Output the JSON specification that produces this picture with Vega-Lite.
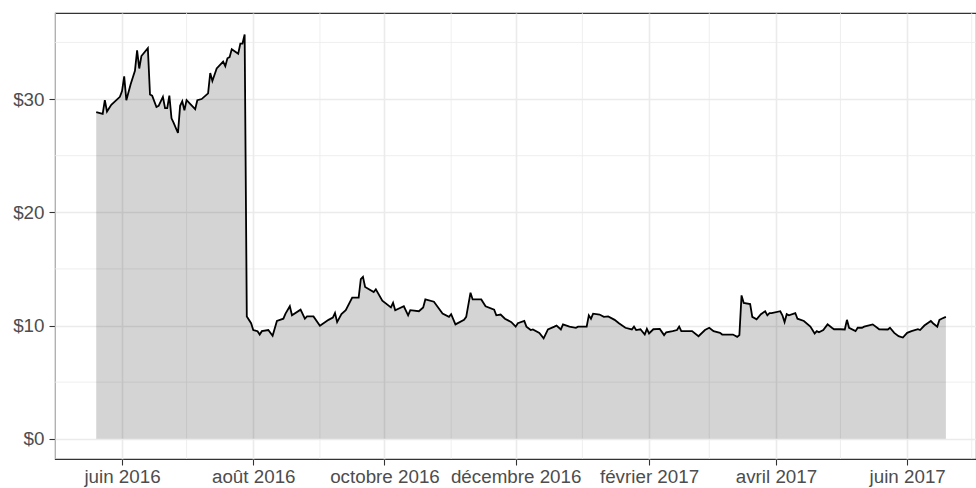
{
  "$schema": "https://vega.github.io/schema/vega-lite/v6.json",
  "width": 921,
  "height": 446,
  "autosize": {"type": "none"},
  "padding": {"left": 55, "top": 13, "right": 0, "bottom": 29},
  "background": "white",
  "config": {
    "view": {"stroke": "#333333", "strokeWidth": 1.1},
    "axis": {
      "labelFont": "Liberation Sans",
      "labelFontSize": 18.8,
      "labelColor": "#4D4D4D",
      "tickColor": "#333333",
      "tickWidth": 1.1,
      "tickSize": 6,
      "domain": false,
      "grid": true,
      "gridColor": "#EBEBEB",
      "gridWidth": 1.6,
      "title": null,
      "labelOverlap": false,
      "labelFlush": false,
      "labelBound": false
    }
  },
  "datasets": {
    "xminor": [
      {"d": "2016-05-01"}, {"d": "2016-07-01"}, {"d": "2016-09-01"}, {"d": "2016-11-01"},
      {"d": "2017-01-01"}, {"d": "2017-03-01"}, {"d": "2017-05-01"}, {"d": "2017-07-01"}
    ],
    "yminor": [{"p": 5}, {"p": 15}, {"p": 25}, {"p": 35}],
    "prices": [
      {"d": "2016-05-20", "p": 28.85}, {"d": "2016-05-23", "p": 28.7}, {"d": "2016-05-24", "p": 29.9},
      {"d": "2016-05-25", "p": 28.9}, {"d": "2016-05-27", "p": 29.5}, {"d": "2016-05-31", "p": 30.2},
      {"d": "2016-06-01", "p": 30.7}, {"d": "2016-06-02", "p": 32.0}, {"d": "2016-06-03", "p": 29.9},
      {"d": "2016-06-05", "p": 31.3}, {"d": "2016-06-07", "p": 32.5}, {"d": "2016-06-08", "p": 34.3},
      {"d": "2016-06-09", "p": 32.7}, {"d": "2016-06-10", "p": 33.8}, {"d": "2016-06-13", "p": 34.5},
      {"d": "2016-06-14", "p": 30.4}, {"d": "2016-06-15", "p": 30.3}, {"d": "2016-06-17", "p": 29.3},
      {"d": "2016-06-18", "p": 29.4}, {"d": "2016-06-20", "p": 30.2}, {"d": "2016-06-21", "p": 29.2},
      {"d": "2016-06-22", "p": 29.2}, {"d": "2016-06-23", "p": 30.3}, {"d": "2016-06-24", "p": 28.3},
      {"d": "2016-06-25", "p": 27.9}, {"d": "2016-06-27", "p": 27.0}, {"d": "2016-06-28", "p": 29.4},
      {"d": "2016-06-29", "p": 29.8}, {"d": "2016-06-30", "p": 29.0}, {"d": "2016-07-01", "p": 29.9},
      {"d": "2016-07-03", "p": 29.5}, {"d": "2016-07-05", "p": 29.1}, {"d": "2016-07-06", "p": 29.9},
      {"d": "2016-07-08", "p": 30.0}, {"d": "2016-07-11", "p": 30.5}, {"d": "2016-07-12", "p": 32.3},
      {"d": "2016-07-13", "p": 31.6}, {"d": "2016-07-15", "p": 32.7}, {"d": "2016-07-18", "p": 33.3},
      {"d": "2016-07-19", "p": 32.9}, {"d": "2016-07-20", "p": 33.6}, {"d": "2016-07-21", "p": 33.7},
      {"d": "2016-07-22", "p": 34.4}, {"d": "2016-07-25", "p": 34.0}, {"d": "2016-07-26", "p": 34.9},
      {"d": "2016-07-27", "p": 34.9}, {"d": "2016-07-28", "p": 35.7}, {"d": "2016-07-29", "p": 10.8},
      {"d": "2016-07-31", "p": 10.2}, {"d": "2016-08-01", "p": 9.6}, {"d": "2016-08-03", "p": 9.5},
      {"d": "2016-08-04", "p": 9.2}, {"d": "2016-08-05", "p": 9.5}, {"d": "2016-08-08", "p": 9.6},
      {"d": "2016-08-10", "p": 9.1}, {"d": "2016-08-12", "p": 10.4}, {"d": "2016-08-15", "p": 10.6},
      {"d": "2016-08-16", "p": 11.05}, {"d": "2016-08-18", "p": 11.7}, {"d": "2016-08-19", "p": 10.9},
      {"d": "2016-08-23", "p": 11.4}, {"d": "2016-08-25", "p": 10.6}, {"d": "2016-08-26", "p": 10.8},
      {"d": "2016-08-29", "p": 10.8}, {"d": "2016-09-01", "p": 9.97}, {"d": "2016-09-05", "p": 10.5},
      {"d": "2016-09-07", "p": 10.7}, {"d": "2016-09-08", "p": 11.1}, {"d": "2016-09-09", "p": 10.3},
      {"d": "2016-09-11", "p": 11.0}, {"d": "2016-09-13", "p": 11.35}, {"d": "2016-09-16", "p": 12.46},
      {"d": "2016-09-19", "p": 12.46}, {"d": "2016-09-20", "p": 14.1}, {"d": "2016-09-21", "p": 14.3},
      {"d": "2016-09-22", "p": 13.4}, {"d": "2016-09-26", "p": 12.95}, {"d": "2016-09-27", "p": 13.2},
      {"d": "2016-09-30", "p": 12.2}, {"d": "2016-10-04", "p": 11.6}, {"d": "2016-10-05", "p": 12.0},
      {"d": "2016-10-06", "p": 11.35}, {"d": "2016-10-10", "p": 11.7}, {"d": "2016-10-12", "p": 10.9},
      {"d": "2016-10-13", "p": 11.35}, {"d": "2016-10-17", "p": 11.26}, {"d": "2016-10-19", "p": 11.6},
      {"d": "2016-10-20", "p": 12.3}, {"d": "2016-10-24", "p": 12.1}, {"d": "2016-10-28", "p": 11.05},
      {"d": "2016-10-31", "p": 10.76}, {"d": "2016-11-01", "p": 11.0}, {"d": "2016-11-03", "p": 10.1},
      {"d": "2016-11-07", "p": 10.5}, {"d": "2016-11-08", "p": 10.76}, {"d": "2016-11-10", "p": 12.9},
      {"d": "2016-11-11", "p": 12.3}, {"d": "2016-11-15", "p": 12.3}, {"d": "2016-11-17", "p": 11.7},
      {"d": "2016-11-21", "p": 11.4}, {"d": "2016-11-22", "p": 10.9}, {"d": "2016-11-24", "p": 10.97},
      {"d": "2016-11-26", "p": 10.6}, {"d": "2016-11-29", "p": 10.3}, {"d": "2016-12-01", "p": 9.9},
      {"d": "2016-12-02", "p": 10.2}, {"d": "2016-12-05", "p": 10.4}, {"d": "2016-12-06", "p": 9.9},
      {"d": "2016-12-08", "p": 9.6}, {"d": "2016-12-09", "p": 9.65}, {"d": "2016-12-12", "p": 9.35},
      {"d": "2016-12-14", "p": 8.86}, {"d": "2016-12-16", "p": 9.65}, {"d": "2016-12-19", "p": 9.9},
      {"d": "2016-12-20", "p": 10.0}, {"d": "2016-12-22", "p": 9.65}, {"d": "2016-12-23", "p": 10.1},
      {"d": "2016-12-26", "p": 9.9}, {"d": "2016-12-29", "p": 9.8}, {"d": "2016-12-30", "p": 9.9},
      {"d": "2017-01-03", "p": 9.9}, {"d": "2017-01-04", "p": 10.9}, {"d": "2017-01-05", "p": 10.6},
      {"d": "2017-01-06", "p": 11.05}, {"d": "2017-01-09", "p": 10.97}, {"d": "2017-01-11", "p": 10.76},
      {"d": "2017-01-13", "p": 10.8}, {"d": "2017-01-16", "p": 10.5}, {"d": "2017-01-18", "p": 10.2},
      {"d": "2017-01-21", "p": 9.8}, {"d": "2017-01-24", "p": 9.65}, {"d": "2017-01-25", "p": 9.9},
      {"d": "2017-01-26", "p": 9.6}, {"d": "2017-01-28", "p": 9.67}, {"d": "2017-01-30", "p": 9.2},
      {"d": "2017-01-31", "p": 9.7}, {"d": "2017-02-01", "p": 9.3}, {"d": "2017-02-03", "p": 9.67},
      {"d": "2017-02-06", "p": 9.7}, {"d": "2017-02-08", "p": 9.15}, {"d": "2017-02-09", "p": 9.4},
      {"d": "2017-02-12", "p": 9.5}, {"d": "2017-02-14", "p": 9.6}, {"d": "2017-02-15", "p": 9.9},
      {"d": "2017-02-16", "p": 9.5}, {"d": "2017-02-19", "p": 9.5}, {"d": "2017-02-21", "p": 9.5},
      {"d": "2017-02-24", "p": 9.05}, {"d": "2017-02-27", "p": 9.6}, {"d": "2017-03-01", "p": 9.8},
      {"d": "2017-03-03", "p": 9.5}, {"d": "2017-03-06", "p": 9.35}, {"d": "2017-03-07", "p": 9.2},
      {"d": "2017-03-12", "p": 9.2}, {"d": "2017-03-14", "p": 9.0}, {"d": "2017-03-15", "p": 9.15},
      {"d": "2017-03-16", "p": 12.66}, {"d": "2017-03-17", "p": 12.0}, {"d": "2017-03-20", "p": 11.9},
      {"d": "2017-03-21", "p": 10.76}, {"d": "2017-03-23", "p": 10.55}, {"d": "2017-03-25", "p": 11.0},
      {"d": "2017-03-27", "p": 11.26}, {"d": "2017-03-28", "p": 10.9}, {"d": "2017-03-29", "p": 11.1},
      {"d": "2017-03-30", "p": 11.1}, {"d": "2017-04-03", "p": 11.26}, {"d": "2017-04-04", "p": 10.9},
      {"d": "2017-04-05", "p": 10.3}, {"d": "2017-04-06", "p": 11.0}, {"d": "2017-04-07", "p": 10.9},
      {"d": "2017-04-10", "p": 11.1}, {"d": "2017-04-11", "p": 10.6}, {"d": "2017-04-14", "p": 10.4},
      {"d": "2017-04-17", "p": 9.9}, {"d": "2017-04-19", "p": 9.3}, {"d": "2017-04-20", "p": 9.5},
      {"d": "2017-04-21", "p": 9.4}, {"d": "2017-04-23", "p": 9.6}, {"d": "2017-04-25", "p": 10.1},
      {"d": "2017-04-27", "p": 9.8}, {"d": "2017-04-28", "p": 9.67}, {"d": "2017-05-01", "p": 9.67},
      {"d": "2017-05-03", "p": 9.65}, {"d": "2017-05-04", "p": 10.5}, {"d": "2017-05-05", "p": 9.8},
      {"d": "2017-05-08", "p": 9.5}, {"d": "2017-05-09", "p": 9.8}, {"d": "2017-05-11", "p": 9.8},
      {"d": "2017-05-12", "p": 9.9}, {"d": "2017-05-16", "p": 10.1}, {"d": "2017-05-19", "p": 9.67},
      {"d": "2017-05-23", "p": 9.65}, {"d": "2017-05-24", "p": 9.8}, {"d": "2017-05-26", "p": 9.35},
      {"d": "2017-05-28", "p": 9.06}, {"d": "2017-05-30", "p": 8.94}, {"d": "2017-06-01", "p": 9.35},
      {"d": "2017-06-03", "p": 9.5}, {"d": "2017-06-06", "p": 9.67}, {"d": "2017-06-07", "p": 9.6},
      {"d": "2017-06-09", "p": 10.0}, {"d": "2017-06-12", "p": 10.4}, {"d": "2017-06-13", "p": 10.2},
      {"d": "2017-06-15", "p": 9.9}, {"d": "2017-06-16", "p": 10.5}, {"d": "2017-06-17", "p": 10.6},
      {"d": "2017-06-19", "p": 10.76}
    ]
  },
  "layer": [
    {
      "data": {"name": "xminor"},
      "mark": {"type": "rule", "color": "#EBEBEB", "strokeWidth": 0.8},
      "encoding": {"x": {"field": "d", "type": "temporal"}}
    },
    {
      "data": {"name": "yminor"},
      "mark": {"type": "rule", "color": "#EBEBEB", "strokeWidth": 0.8},
      "encoding": {"y": {"field": "p", "type": "quantitative"}}
    },
    {
      "data": {"name": "prices"},
      "mark": {"type": "area", "color": "#000000", "opacity": 0.17},
      "encoding": {
        "x": {
          "field": "d",
          "type": "temporal",
          "scale": {
            "type": "utc",
            "domain": [
              {"year": 2016, "month": 4, "date": 30, "hours": 20, "utc": true},
              {"year": 2017, "month": 7, "date": 3, "utc": true}
            ],
            "nice": false
          },
          "axis": {
            "values": [
              {"year": 2016, "month": 6, "date": 1, "utc": true},
              {"year": 2016, "month": 8, "date": 1, "utc": true},
              {"year": 2016, "month": 10, "date": 1, "utc": true},
              {"year": 2016, "month": 12, "date": 1, "utc": true},
              {"year": 2017, "month": 2, "date": 1, "utc": true},
              {"year": 2017, "month": 4, "date": 1, "utc": true},
              {"year": 2017, "month": 6, "date": 1, "utc": true}
            ],
            "labelExpr": "['janvier','février','mars','avril','mai','juin','juillet','août','septembre','octobre','novembre','décembre'][utcmonth(datum.value)] + ' ' + utcyear(datum.value)",
            "labelPadding": 2
          }
        },
        "y": {
          "field": "p",
          "type": "quantitative",
          "scale": {"domain": [-1.79, 37.6], "nice": false, "zero": false},
          "axis": {
            "values": [0, 10, 20, 30],
            "labelExpr": "'$' + datum.value",
            "labelPadding": 5
          }
        },
        "y2": {"datum": 0}
      }
    },
    {
      "data": {"name": "prices"},
      "mark": {"type": "line", "color": "#000000", "strokeWidth": 1.8},
      "encoding": {
        "x": {"field": "d", "type": "temporal"},
        "y": {"field": "p", "type": "quantitative"}
      }
    }
  ]
}
